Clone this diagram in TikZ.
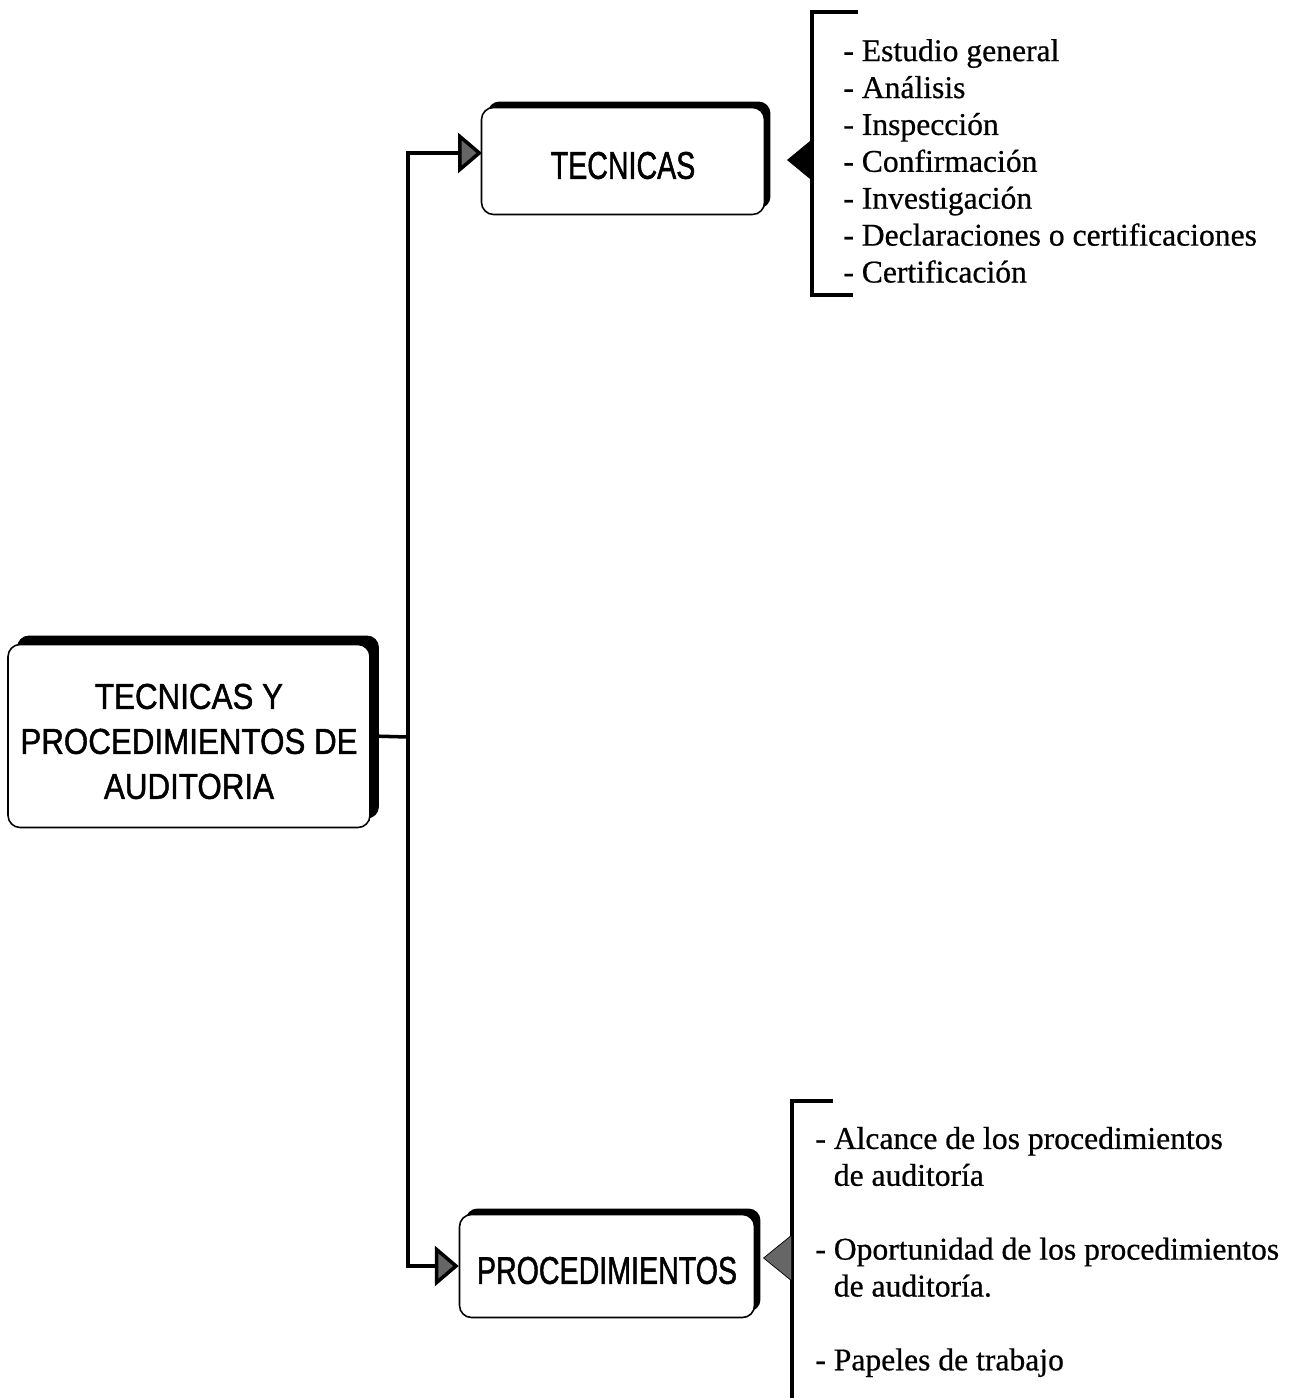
\documentclass[tikz,border=0pt]{standalone}
\usepackage{fontspec}
\setmainfont{Liberation Serif}[FakeBold=0.6]
\newfontfamily\bigboxfont[FakeStretch=0.87,FakeBold=1.2]{Liberation Sans}
\newfontfamily\boxfont[FakeStretch=0.74,FakeBold=1.2]{Liberation Sans}
\usetikzlibrary{arrows.meta,shadows}
\newcommand{\topstrut}{\rule{0pt}{20.5pt}}

\begin{document}
\begin{tikzpicture}[
    x=0.02cm, y=-0.02cm, %one unit is one pixel of the page
    box/.style={draw=black, line width=0.9pt, fill=white, rounded corners=0.24cm,
        drop shadow={shadow xshift=#1, shadow yshift=#1, fill=black, opacity=1}},
    box/.default=0.12cm,
    conn/.style={line width=2pt},
    brk/.style={line width=2.2pt},
    intip/.style={-{Triangle[length=0.48cm,width=0.8cm,fill=black!60]}},
    outtip/.style={-{Triangle[length=0.5cm,width=0.82cm]}},
    bigtip/.style={-{Triangle[length=0.58cm,width=0.94cm,fill=black!60]}},
    lst/.style={align=left, inner sep=0pt,
        font=\fontsize{18}{21}\selectfont},
    ]

    \useasboundingbox (0,0) rectangle (1307,1398);

    %Boxes
    \node[box=0.18cm, minimum width=7.24cm, minimum height=3.66cm, align=center,
        font=\bigboxfont\fontsize{20.5}{25.6}\selectfont] (main) at (189,736)
        {\topstrut TECNICAS Y\\PROCEDIMIENTOS DE\\AUDITORIA};
    \node[box, minimum width=5.66cm, minimum height=2.14cm,
        font=\boxfont\fontsize{22}{26}\selectfont] (tec) at (623,161) {\topstrut TECNICAS};
    \node[box, minimum width=5.9cm, minimum height=2.06cm,
        font=\boxfont\fontsize{22}{26}\selectfont] (proc) at (607,1266) {\topstrut PROCEDIMIENTOS};

    %Connectors
    \coordinate (jn) at (408,737);
    \coordinate (tecIn) at (482,153);
    \draw[conn] (main.east) -- (jn);
    \draw[conn,intip] (jn) |- (tecIn);
    \draw[conn,intip] (jn) |- (proc.west);

    %Techniques
    \draw[brk] (858,12) -- (812,12) -- (812,295) -- (853,295);
    \coordinate (tecBr) at (812,160);
    \coordinate (tecTip) at (787,160);
    \draw[outtip] (tecBr) -- (tecTip);
    \node[lst, anchor=west] (tecList) at (843,161) {- Estudio general\\
        - Análisis\\
        - Inspección\\
        - Confirmación\\
        - Investigación\\
        - Declaraciones o certificaciones\\
        - Certificación};

    %Procedures
    \draw[brk] (833,1101) -- (792,1101) -- (792,1398);
    \coordinate (procBr) at (792,1258);
    \coordinate (procTip) at (763,1258);
    \draw[bigtip] (procBr) -- (procTip);
    \node[lst, anchor=west] (procList) at (815,1252)
        {- Alcance de los procedimientos\\
        \hphantom{- }de auditoría\\[21pt]
        - Oportunidad de los procedimientos\\
        \hphantom{- }de auditoría.\\[21pt]
        - Papeles de trabajo};

\end{tikzpicture}
\end{document}
